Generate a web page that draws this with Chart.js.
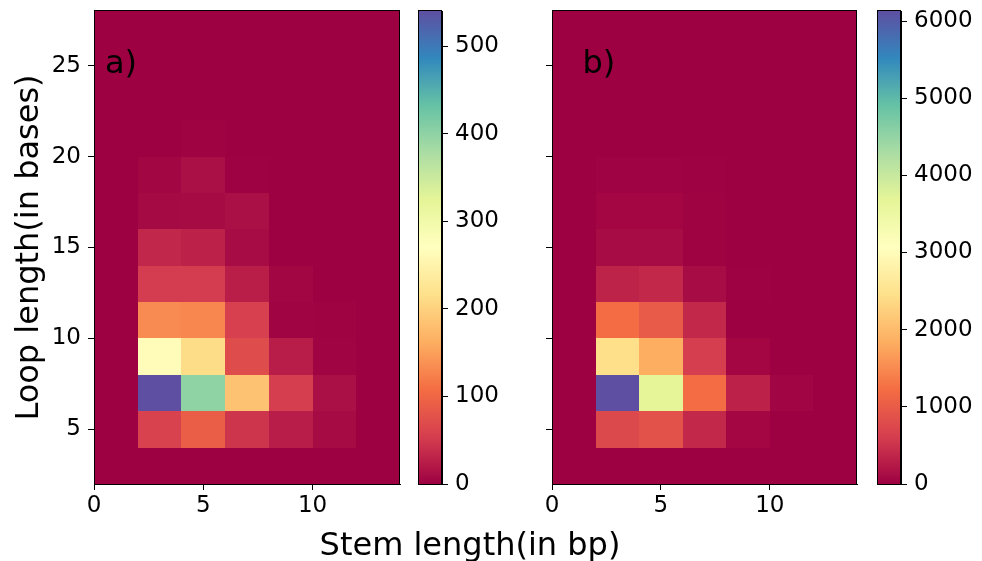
<!DOCTYPE html>
<html>
<head>
  <title>Loop length vs stem length</title>
  <script src="https://cdn.jsdelivr.net/npm/chart.js@4.4.1/dist/chart.umd.min.js"></script>
  <style>
    body { margin: 0; background: #fff; }
    canvas { position: absolute; top: 0; }
    #xtitle {
      position: absolute; left: 0; top: 528px; width: 940px;
      text-align: center; font-family: 'DejaVu Sans'; font-size: 32px; line-height: 32px; color: #000;
    }
  </style>
</head>
<body>
<canvas id="heatA" width="410" height="530" style="left:0"></canvas>
<canvas id="barA" width="110" height="530" style="left:410px"></canvas>
<canvas id="heatB" width="367" height="530" style="left:500px"></canvas>
<canvas id="barB" width="113" height="530" style="left:869px"></canvas>
<div id="xtitle">Stem length(in bp)</div>

<script>
  // bin edges (stem length on x, loop length on y)
  const xEdges = [0, 2, 4, 6, 8, 10, 12, 14];
  const yEdges = [2, 4, 6, 8, 10, 12, 14, 16, 18, 20, 22, 24, 26, 28];
  const xTicks = [0, 5, 10];
  const yTicks = [5, 10, 15, 20, 25];

  // counts per row, bottom row first; columns follow xEdges
  const countsA = [
    [0, 0, 0, 0, 0, 0, 0],
    [0, 59, 91, 46, 25, 9, 0],
    [0, 540, 400, 184, 54, 12, 0],
    [0, 265, 213, 70, 25, 3, 0],
    [0, 133, 130, 56, 3, 2, 0],
    [0, 53, 53, 26, 4, 0, 0],
    [0, 34, 29, 10, 0, 0, 0],
    [0, 8, 9, 12, 0, 0, 0],
    [0, 4, 12, 1, 0, 0, 0],
    [0, 0, 2, 0, 0, 0, 0],
    [0, 0, 0, 0, 0, 0, 0],
    [0, 0, 0, 0, 0, 0, 0],
    [0, 0, 0, 0, 0, 0, 0]
  ];
  const countsB = [
    [0, 0, 0, 0, 0, 0, 0],
    [0, 752, 870, 390, 55, 5, 0],
    [0, 6130, 3680, 1215, 335, 45, 0],
    [0, 2450, 1840, 610, 55, 3, 0],
    [0, 1215, 990, 390, 5, 0, 0],
    [0, 345, 390, 110, 8, 0, 0],
    [0, 110, 110, 20, 5, 0, 0],
    [0, 55, 55, 20, 0, 0, 0],
    [0, 25, 25, 8, 0, 0, 0],
    [0, 0, 0, 0, 0, 0, 0],
    [0, 0, 0, 0, 0, 0, 0],
    [0, 0, 0, 0, 0, 0, 0],
    [0, 0, 0, 0, 0, 0, 0]
  ];
  const vmaxA = 540;
  const vmaxB = 6130;
  const barTicksA = [0, 100, 200, 300, 400, 500];
  const barTicksB = [0, 1000, 2000, 3000, 4000, 5000, 6000];

  // matplotlib "Spectral"
  const spectral = [[158,1,66],[213,62,79],[244,109,67],[253,174,97],[254,224,139],[255,255,191],
                    [230,245,152],[171,221,164],[102,194,165],[50,136,189],[94,79,162]];
  function cmap(t) {
    t = Math.max(0, Math.min(1, t));
    const p = t * 10, i = Math.min(9, Math.floor(p)), f = p - i;
    const a = spectral[i], b = spectral[i + 1];
    const c = a.map((v, k) => Math.round(v + (b[k] - v) * f));
    return 'rgb(' + c.join(',') + ')';
  }

  Chart.defaults.font.family = 'DejaVu Sans';
  Chart.defaults.color = '#000';

  function frame(ctx, area) {
    ctx.save();
    ctx.strokeStyle = '#000';
    ctx.lineWidth = 1;
    ctx.strokeRect(Math.round(area.left) + 0.5, Math.round(area.top) - 0.5,
                   Math.round(area.right - area.left) - 1, Math.round(area.bottom - area.top) + 1);
    ctx.restore();
  }

  const heatmap = {
    id: 'heatmap',
    beforeDatasetsDraw(chart, args, opts) {
      const { ctx, scales: { x, y } } = chart;
      ctx.save();
      opts.counts.forEach((row, j) => row.forEach((v, i) => {
        const x0 = Math.round(x.getPixelForValue(xEdges[i]));
        const x1 = Math.round(x.getPixelForValue(xEdges[i + 1]));
        const y0 = Math.round(y.getPixelForValue(yEdges[j + 1]));
        const y1 = Math.round(y.getPixelForValue(yEdges[j]));
        ctx.fillStyle = cmap(v / opts.vmax);
        ctx.fillRect(x0, y0, x1 - x0, y1 - y0);
      }));
      ctx.restore();
    },
    afterDraw(chart, args, opts) {
      const { ctx, scales: { x, y } } = chart;
      frame(ctx, chart.chartArea);
      ctx.save();
      ctx.fillStyle = '#000';
      ctx.font = '32px "DejaVu Sans"';
      ctx.textBaseline = 'alphabetic';
      ctx.fillText(opts.label, x.getPixelForValue(opts.at[0]), y.getPixelForValue(opts.at[1]));
      ctx.restore();
    }
  };

  const colorbar = {
    id: 'colorbar',
    beforeDatasetsDraw(chart) {
      const { ctx, chartArea: a } = chart;
      const g = ctx.createLinearGradient(0, a.bottom, 0, a.top);
      spectral.forEach((c, k) => g.addColorStop(k / 10, 'rgb(' + c.join(',') + ')'));
      ctx.save();
      ctx.fillStyle = g;
      ctx.fillRect(a.left, a.top, a.right - a.left, a.bottom - a.top);
      ctx.restore();
    },
    afterDraw(chart) { frame(chart.ctx, chart.chartArea); }
  };

  const tickGrid = { drawOnChartArea: false, drawTicks: true, tickLength: 6, color: '#000', lineWidth: 1 };
  const border = { display: true, color: '#000', width: 1 };
  const plain = v => String(v);

  // fixed axis sizes so the plot boxes land where the figure has them
  function fixWidth(w) {
    return s => { s.width = w; s.paddingTop = 0; s.paddingBottom = 0; };
  }
  function fixHeight(h) {
    return s => { s.height = h; s.paddingLeft = 0; s.paddingRight = 0; };
  }

  function heatChart(id, counts, vmax, label, at, yWidth, showYLabels, yTitle) {
    return new Chart(document.getElementById(id), {
      type: 'scatter',
      data: { datasets: [] },
      plugins: [heatmap],
      options: {
        responsive: false,
        animation: false,
        events: [],
        layout: { padding: { top: 11, right: 10, left: 0, bottom: 0 } },
        plugins: {
          legend: { display: false },
          tooltip: { enabled: false },
          heatmap: { counts: counts, vmax: vmax, label: label, at: at }
        },
        scales: {
          x: {
            type: 'linear', min: 0, max: 14,
            afterBuildTicks: s => { s.ticks = xTicks.map(v => ({ value: v })); },
            afterFit: fixHeight(46),
            ticks: { font: { size: 23 }, padding: 2, maxRotation: 0, autoSkip: false, callback: plain },
            grid: tickGrid, border: border
          },
          y: {
            type: 'linear', min: 2, max: 28,
            afterBuildTicks: s => { s.ticks = yTicks.map(v => ({ value: v })); },
            afterFit: fixWidth(yWidth),
            ticks: { display: showYLabels, font: { size: 23 }, padding: 7, autoSkip: false, callback: plain },
            grid: tickGrid, border: border,
            title: {
              display: !!yTitle, text: yTitle || '',
              font: { size: 32, lineHeight: 1 }, padding: { top: 14, bottom: 0 }
            }
          }
        }
      }
    });
  }

  function barChart(id, vmax, ticks, width) {
    return new Chart(document.getElementById(id), {
      type: 'scatter',
      data: { datasets: [] },
      plugins: [colorbar],
      options: {
        responsive: false,
        animation: false,
        events: [],
        layout: { padding: { top: 11, right: 0, left: 8, bottom: 46 } },
        plugins: { legend: { display: false }, tooltip: { enabled: false } },
        scales: {
          x: { type: 'linear', min: 0, max: 1, display: false },
          y: {
            type: 'linear', position: 'right', min: 0, max: vmax,
            afterBuildTicks: s => { s.ticks = ticks.map(v => ({ value: v })); },
            afterFit: fixWidth(width),
            ticks: { font: { size: 23 }, padding: 7, autoSkip: false, callback: plain },
            grid: tickGrid, border: border
          }
        }
      }
    });
  }

  heatChart('heatA', countsA, vmaxA, 'a)', [0.5, 24.6], 94, true, 'Loop length(in bases)');
  barChart('barA', vmaxA, barTicksA, 78);
  heatChart('heatB', countsB, vmaxB, 'b)', [1.4, 24.6], 52, false, null);
  barChart('barB', vmaxB, barTicksB, 81);
</script>
</body>
</html>
